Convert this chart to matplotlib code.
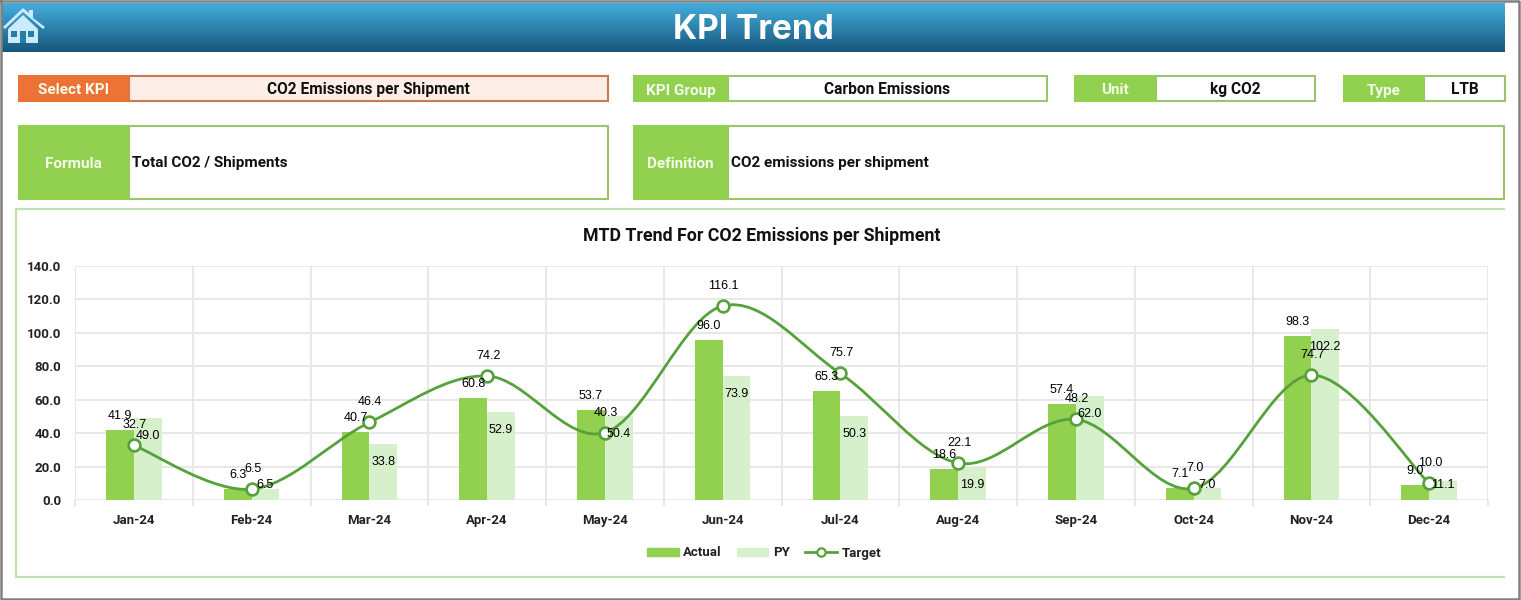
import numpy as np
import matplotlib
matplotlib.use('agg')
import matplotlib.pyplot as plt
import matplotlib.patches as mpatches
from matplotlib.lines import Line2D
from matplotlib.path import Path

months = ['Jan-24', 'Feb-24', 'Mar-24', 'Apr-24', 'May-24', 'Jun-24',
          'Jul-24', 'Aug-24', 'Sep-24', 'Oct-24', 'Nov-24', 'Dec-24']
actual = [41.9, 6.3, 40.7, 60.8, 53.7, 96.0, 65.3, 18.6, 57.4, 7.1, 98.3, 9.0]
py = [49.0, 6.5, 33.8, 52.9, 50.4, 73.9, 50.3, 19.9, 62.0, 7.0, 102.2, 11.1]
target = [32.7, 6.5, 46.4, 74.2, 40.3, 116.1, 75.7, 22.1, 48.2, 7.0, 74.7, 10.0]
y_ticks = [0, 20, 40, 60, 80, 100, 120, 140]

W, H = 1521, 600
GREEN = '#92D050'
GREEN_EDGE = '#9CC46E'
ORANGE = '#ED7235'
LINE = '#55A23C'
LIGHT = '#D6F0CB'
GRID = '#E8E8E8'
UI_FONT = ['Roboto', 'DejaVu Sans']

fig = plt.figure(figsize=(W / 100, H / 100), dpi=100, facecolor='white')

# page layer in pixel coordinates
bg = fig.add_axes([0, 0, 1, 1], zorder=0)
bg.set_xlim(0, W)
bg.set_ylim(H, 0)
bg.axis('off')


def box(x0, y0, x1, y1, face, edge=None, lw=0):
    bg.add_patch(mpatches.Rectangle((x0, y0), x1 - x0, y1 - y0, facecolor=face,
                                    edgecolor=edge if edge else 'none', linewidth=lw))


def field(x0, x_split, x1, y0, y1, label, value, center=True, color=GREEN, edge=GREEN_EDGE, fill='white'):
    box(x_split, y0, x1, y1, fill, edge, 1.5)
    box(x0, y0 - 1, x_split, y1 + 1, color)
    bg.text((x0 + x_split) / 2, (y0 + y1) / 2 + 2, label, color='#F4FBE9', fontsize=11,
            fontweight='bold', ha='center', va='center', family=UI_FONT)
    if center:
        bg.text((x_split + x1) / 2, (y0 + y1) / 2 + 1, value, color='#111111', fontsize=11.2,
                fontweight='bold', ha='center', va='center', family=UI_FONT)
    else:
        bg.text(x_split + 3, (y0 + y1) / 2 + 1, value, color='#111111', fontsize=11,
                fontweight='bold', ha='left', va='center', family=UI_FONT)


# outer border
bg.plot([1, 1519, 1519, 1, 1], [1, 1, 599, 599, 1], color='#808080', lw=1.8, clip_on=False)

# header gradient
grad = np.linspace(0, 1, 50).reshape(-1, 1, 1)
top_col = np.array([0x45, 0xAD, 0xDC]) / 255
bot_col = np.array([0x17, 0x58, 0x7E]) / 255
bg.imshow(top_col + grad * (bot_col - top_col), extent=(2, 1505, 52, 3), aspect='auto', zorder=1)
bg.set_xlim(0, W)
bg.set_ylim(H, 0)
bg.text(753, 30, 'KPI Trend', color='white', fontsize=24, fontweight='bold',
        ha='center', va='center', family=['Inter', 'DejaVu Sans'], zorder=2)

# home icon
ICON = '#C9EBFC'
bg.add_patch(mpatches.Polygon([(3, 27), (23, 8), (29, 13), (29, 10), (33, 10), (33, 18), (45, 27), (43, 29),
                               (23, 12), (5, 29)], facecolor=ICON, edgecolor='none', zorder=2))
bg.add_patch(mpatches.Polygon([(8, 29), (23, 15), (38, 29), (38, 43), (8, 43)], facecolor=ICON,
                              edgecolor='none', zorder=2))
for x0, x1, y0, y1 in [(11, 17, 31, 37), (28, 34, 31, 37), (20, 26, 31, 43)]:
    bg.add_patch(mpatches.Rectangle((x0, y0), x1 - x0, y1 - y0, facecolor='#2A7BA6', edgecolor='none', zorder=3))

# header fields
field(18, 129, 608, 76, 101, 'Select KPI', 'CO2 Emissions per Shipment', color=ORANGE, edge='#C97B50', fill='#FDEFE7')
field(633, 728, 1047, 76, 101, 'KPI Group', 'Carbon Emissions')
field(1074, 1156, 1315, 76, 101, 'Unit', 'kg CO2')
field(1343, 1424, 1505, 76, 101, 'Type', 'LTB')
field(18, 129, 608, 126, 199, 'Formula', 'Total CO2 / Shipments', center=False)
field(633, 728, 1504, 126, 199, 'Definition', 'CO2 emissions per shipment', center=False)

# chart frame, open on the right
bg.plot([1504, 16, 16, 1504], [209, 209, 577, 577], color='#C5E0B0', lw=1.6)
bg.text(762, 236, 'MTD Trend For CO2 Emissions per Shipment', color='#111111', fontsize=12.8,
        fontweight='bold', ha='center', va='center', family=UI_FONT)

# chart layer
ax = fig.add_axes([75 / W, (H - 500) / H, (1488 - 75) / W, (500 - 266) / H], zorder=1)
ax.patch.set_alpha(0)
x = np.arange(len(months))
bar_w = 0.235
ax.bar(x - bar_w / 2, actual, bar_w, color=GREEN, zorder=2)
ax.bar(x + bar_w / 2, py, bar_w, color=LIGHT, zorder=2)

ax.set_xlim(-0.5, len(months) - 0.5)
ax.set_ylim(0, 140)
ax.set_yticks(y_ticks)
ax.set_yticklabels([f'{v:.1f}' for v in y_ticks], fontsize=9.5, fontweight='bold', family=UI_FONT, color='#222222')
ax.set_xticks(x)
ax.set_xticklabels(months, fontsize=9.5, fontweight='bold', family=UI_FONT, color='#222222')
ax.set_xticks(np.arange(-0.5, len(months)), minor=True)
ax.tick_params(axis='x', which='major', length=0, pad=10)
ax.tick_params(axis='x', which='minor', length=4, color=GRID, width=1.4)
ax.tick_params(axis='y', length=0, pad=10)
ax.grid(True, axis='y', color=GRID, lw=1.4, zorder=0)
ax.grid(True, axis='x', which='minor', color=GRID, lw=1.4, zorder=0)
ax.set_axisbelow(True)
for s in ax.spines.values():
    s.set_visible(False)

# smoothed target line, bezier control points taken from neighbouring points
pts = np.column_stack([x, target]).astype(float)
verts = [pts[0]]
codes = [Path.MOVETO]
for i in range(len(pts) - 1):
    prev_pt = pts[max(i - 1, 0)]
    next_pt = pts[min(i + 2, len(pts) - 1)]
    verts += [pts[i] + (pts[i + 1] - prev_pt) / 6, pts[i + 1] - (next_pt - pts[i]) / 6, pts[i + 1]]
    codes += [Path.CURVE4] * 3
ax.add_patch(mpatches.PathPatch(Path(verts, codes), facecolor='none', edgecolor=LINE, lw=2.0, zorder=3))
ax.plot(x, target, ls='none', marker='o', ms=8.5, mfc='white', mec=LINE, mew=1.9, zorder=4)

# data labels, short PY bars keep their label just above the axis
lab = dict(fontsize=9, family=['Liberation Sans', 'DejaVu Sans'], color='black', ha='center', va='center',
           textcoords='offset pixels', zorder=5, annotation_clip=False)
px_per_unit = (500 - 266) / 140
for i in x:
    ax.annotate(f'{actual[i]:.1f}', (i - bar_w / 2, actual[i]), xytext=(0, 14), **lab)
    ax.annotate(f'{py[i]:.1f}', (i + bar_w / 2, py[i]), xytext=(0, -min(18, py[i] * px_per_unit - 15)), **lab)
    ax.annotate(f'{target[i]:.1f}', (i, target[i]), xytext=(1, 20), **lab)

handles = [mpatches.Patch(color=GREEN, label='Actual'),
           mpatches.Patch(color=LIGHT, label='PY'),
           Line2D([], [], color=LINE, lw=2, marker='o', ms=6, mfc='white', mec=LINE, mew=1.6, label='Target')]
leg = fig.legend(handles=handles, loc='center', bbox_to_anchor=(764 / W, (H - 553) / H), ncol=3, frameon=False,
                 prop={'family': UI_FONT, 'weight': 'bold', 'size': 9.5}, handlelength=2.4, handleheight=0.6,
                 handletextpad=0.35, columnspacing=1.15, borderpad=0)
for t in leg.get_texts():
    t.set_color('#222222')

fig.savefig('out.png', dpi=100)
